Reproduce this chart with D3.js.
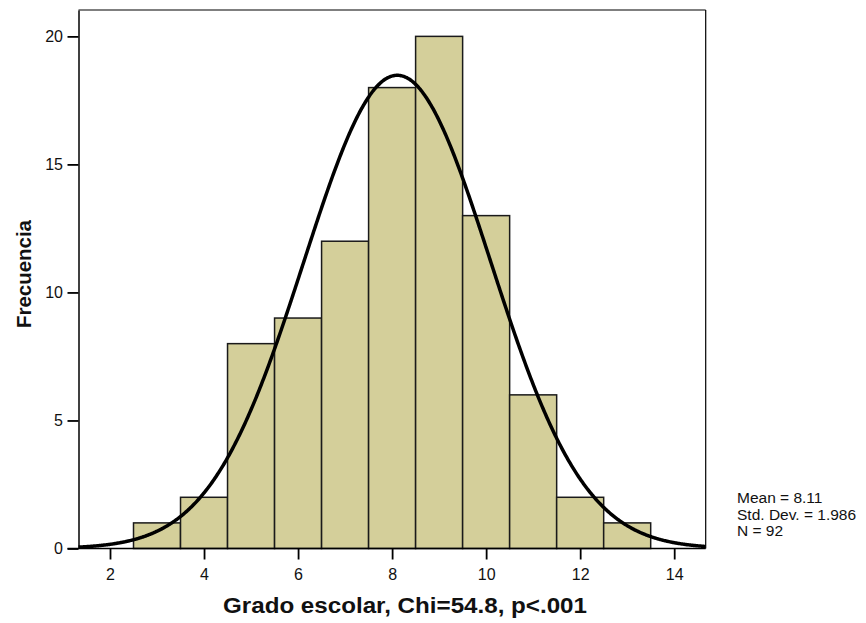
<!DOCTYPE html>
<html><head><meta charset="utf-8">
<script src="https://cdn.jsdelivr.net/npm/d3@7"></script>
<style>body{margin:0;background:#fff}svg{display:block}text{font-family:"Liberation Sans",Arial,sans-serif}</style>
</head><body>
<svg id="c" width="866" height="623"></svg>
<script>
const binCenters = [3,4,5,6,7,8,9,10,11,12,13];
const counts = [1,2,8,9,12,18,20,13,6,2,1];
const xTicks = [2,4,6,8,10,12,14];
const yTicks = [0,5,10,15,20];
const mean = 8.11, stdDev = 1.986, n = 92, binWidth = 1;
const statLines = ["Mean = 8.11","Std. Dev. = 1.986","N = 92"];

const svg = d3.select("#c");
const L=78.5, R=705.7, T=10, B=548.5;
const x = d3.scaleLinear().domain([1.33,14.67]).range([L,R]);
const y = d3.scaleLinear().domain([0,21.03]).range([B,T]);

// frame
svg.append("line").attr("x1",L).attr("x2",R).attr("y1",T).attr("y2",T).attr("stroke","#555").attr("stroke-width",1.5);
svg.append("line").attr("x1",R).attr("x2",R).attr("y1",T).attr("y2",B).attr("stroke","#000").attr("stroke-width",1.2);

// bars
svg.append("g").selectAll("rect").data(binCenters).join("rect")
  .attr("x",(d)=>x(d-binWidth/2)).attr("width",(d)=>x(d+binWidth/2)-x(d-binWidth/2))
  .attr("y",(d,i)=>y(counts[i])).attr("height",(d,i)=>y(0)-y(counts[i]))
  .attr("fill","#d4cf9a").attr("stroke","#1a1a1a").attr("stroke-width",1.5);

// normal curve
const pts = d3.range(1.33,14.671,0.02).map(v=>[v, n*binWidth*Math.exp(-0.5*((v-mean)/stdDev)**2)/(stdDev*Math.sqrt(2*Math.PI))]);
svg.append("path").datum(pts).attr("d",d3.line().x(d=>x(d[0])).y(d=>y(d[1])).curve(d3.curveBasis))
  .attr("fill","none").attr("stroke","#000").attr("stroke-width",3.5);

// axes
const gx = svg.append("g").attr("transform",`translate(0,${B})`)
  .call(d3.axisBottom(x).tickValues(xTicks).tickSize(11).tickSizeOuter(0).tickPadding(9));
const gy = svg.append("g").attr("transform",`translate(${L},0)`)
  .call(d3.axisLeft(y).tickValues(yTicks).tickSize(11).tickSizeOuter(0).tickPadding(4.5));
[gx,gy].forEach(g=>{
  g.select(".domain").attr("stroke","#000").attr("stroke-width",1.5);
  g.selectAll(".tick line").attr("stroke","#000").attr("stroke-width",1.8);
  g.selectAll(".tick text").attr("font-size",16).attr("fill","#111").attr("font-family","Liberation Sans, Arial, sans-serif");
});
gx.select(".domain").attr("d",`M${L-11},0H${R}`);

// labels
svg.append("text").attr("x",405).attr("y",613).attr("text-anchor","middle")
  .attr("font-size",21.5).attr("font-weight","bold").attr("fill","#111")
  .attr("textLength",364).attr("lengthAdjust","spacingAndGlyphs")
  .text("Grado escolar, Chi=54.8, p<.001");
svg.append("text").attr("transform","translate(30.5,274) rotate(-90)").attr("text-anchor","middle")
  .attr("font-size",21).attr("font-weight","bold").attr("fill","#111")
  .attr("textLength",108).attr("lengthAdjust","spacingAndGlyphs")
  .text("Frecuencia");
svg.append("g").selectAll("text").data(statLines).join("text")
  .attr("x",737).attr("y",(d,i)=>503+i*16.5).attr("font-size",15.5).attr("fill","#111").text(d=>d);
</script>
</body></html>
